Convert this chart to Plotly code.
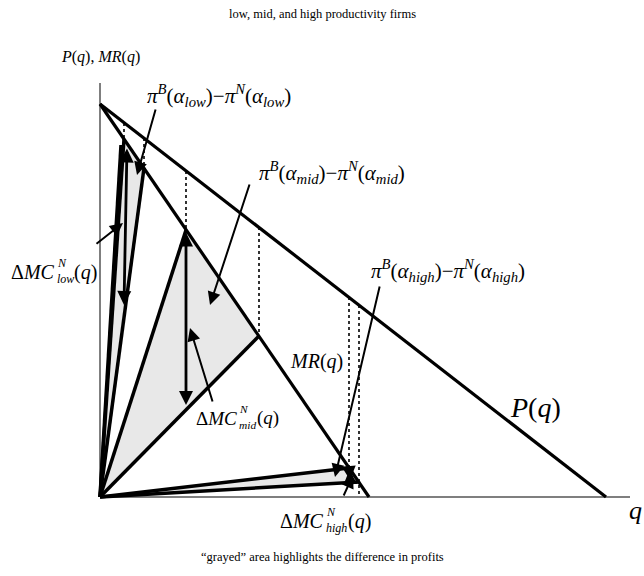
import plotly.graph_objects as go

# Coordinates: q (quantity), p (price) in chart units
demand_q = [0, 506]
demand_p = [393, 0]
mr_q = [0, 269]
mr_p = [393, 0]

firms = ["low", "mid", "high"]
apex_q = [24, 86, 249]
apex_p = [358, 267, 29]
right_q = [44, 159, 259]
right_p = [329, 161, 15]
price_at_apex = [374, 326, 200]
price_at_right = [359, 270, 192]
dot_bottom_apex = [358, 267, 25]
dot_bottom_right = [329, 161, 0]

# vertical double arrows (ΔMC) : top and bottom
dmc_top_q = [27, 86, 249]
dmc_top_p = [350, 266, 28]
dmc_bot_q = [24, 86, 250]
dmc_bot_p = [192, 92, 17]

SERIF = "Liberation Serif"

fig = go.Figure()

# shaded triangles
for i in range(3):
    fig.add_trace(go.Scatter(
        x=[0, apex_q[i], right_q[i], 0], y=[0, apex_p[i], right_p[i], 0],
        fill="toself", fillcolor="#e8e8e8", mode="lines",
        line=dict(color="rgba(0,0,0,0)", width=0), hoverinfo="skip", showlegend=False))

# dotted vertical lines
dx, dy = [], []
for i in range(3):
    dx += [apex_q[i], apex_q[i], None, right_q[i], right_q[i], None]
    dy += [price_at_apex[i], dot_bottom_apex[i], None, price_at_right[i], dot_bottom_right[i], None]
fig.add_trace(go.Scatter(x=dx, y=dy, mode="lines", line=dict(color="black", width=1.6, dash="dot"),
                         hoverinfo="skip", showlegend=False))

# axes
fig.add_trace(go.Scatter(x=[0, 0], y=[0, 414], mode="lines", line=dict(color="#555555", width=1.5),
                         hoverinfo="skip", showlegend=False))
fig.add_trace(go.Scatter(x=[0, 530], y=[0, 0], mode="lines", line=dict(color="black", width=1.2),
                         hoverinfo="skip", showlegend=False))

# demand and MR
fig.add_trace(go.Scatter(x=demand_q, y=demand_p, mode="lines", line=dict(color="black", width=3.2),
                         hoverinfo="skip", showlegend=False))
fig.add_trace(go.Scatter(x=mr_q, y=mr_p, mode="lines", line=dict(color="black", width=3.2),
                         hoverinfo="skip", showlegend=False))

# rays from origin
rx, ry = [], []
for i in range(3):
    rx += [0, apex_q[i], None, 0, right_q[i], None]
    ry += [0, apex_p[i], None, 0, right_p[i], None]
rx += [0, 21, None]
ry += [0, 352, None]
fig.add_trace(go.Scatter(x=rx, y=ry, mode="lines", line=dict(color="black", width=3.5),
                         hoverinfo="skip", showlegend=False))

ann = []
# ΔMC double arrows
for i in range(3):
    ann.append(dict(x=dmc_bot_q[i], y=dmc_bot_p[i], ax=dmc_top_q[i], ay=dmc_top_p[i],
                    xref="x", yref="y", axref="x", ayref="y", text="", showarrow=True,
                    arrowhead=2, startarrowhead=2, arrowside="end+start", arrowsize=1, startarrowsize=1,
                    arrowwidth=2.8, arrowcolor="black"))

# label arrows: (head_q, head_p, tail_q, tail_p)
label_arrows = [
    (37, 322, 56, 389),
    (110, 192, 150, 314),
    (235, 20, 280, 212),
    (23, 274, -5, 252),
    (90, 169, 113, 94),
    (253, 22, 243, 0),
]
for hq, hp, tq, tp in label_arrows:
    ann.append(dict(x=hq, y=hp, ax=tq, ay=tp, xref="x", yref="y", axref="x", ayref="y",
                    text="", showarrow=True, arrowhead=2, arrowsize=1.3, arrowwidth=2, arrowcolor="black"))

def lab(q, p, text, size, anchor="center", yshift=0):
    ann.append(dict(x=q, y=p, xref="x", yref="y", text=text, showarrow=False,
                    font=dict(family=SERIF, size=size, color="black"),
                    xanchor=anchor, yanchor="middle", yshift=yshift))

def pi_label(q, p, sub, size):
    t = ("<i>\u03c0</i><sup><i>B</i></sup>(<i>\u03b1</i><sub><i>%s</i></sub>)\u2212"
         "<i>\u03c0</i><sup><i>N</i></sup>(<i>\u03b1</i><sub><i>%s</i></sub>)") % (sub, sub)
    lab(q, p, t, size)

def dmc_label(q_split, p, sub, size, sub_w):
    lab(q_split, p, "\u0394<i>MC</i>", size, anchor="right")
    lab(q_split - 2, p, "<i>N</i>", size * 0.6, anchor="left", yshift=size * 0.45)
    lab(q_split - 2, p, "<i>%s</i>" % sub, size * 0.6, anchor="left", yshift=-size * 0.35)
    lab(q_split + sub_w, p, "(<i>q</i>)", size, anchor="left")

lab(222, 483, "low, mid, and high productivity firms", 12.5)
lab(222, -60, "\u201cgrayed\u201d area highlights the difference in profits", 12.5)
lab(0, 440, "<i>P</i>(<i>q</i>), <i>MR</i>(<i>q</i>)", 16)
pi_label(119, 402, "low", 21)
pi_label(232, 325, "mid", 21)
pi_label(348, 227, "high", 21)
dmc_label(-43, 225, "low", 20, 15)
lab(216, 136, "<i>MR</i>(<i>q</i>)", 20)
dmc_label(139, 79, "mid", 19, 16)
lab(435, 90, "<i>P</i>(<i>q</i>)", 28)
dmc_label(226, -24, "high", 20, 20)
lab(544, -13, "<i>q</i>", 26, anchor="right")

fig.update_layout(
    width=644, height=576, margin=dict(l=0, r=0, t=0, b=0),
    paper_bgcolor="white", plot_bgcolor="white",
    xaxis=dict(range=[-100, 544], visible=False, fixedrange=True),
    yaxis=dict(range=[-79, 497], visible=False, fixedrange=True),
    annotations=ann, showlegend=False,
)
fig.write_html("out.html", config={"displayModeBar": False},
               post_script="document.body.style.margin='0';document.body.style.overflow='hidden';")
